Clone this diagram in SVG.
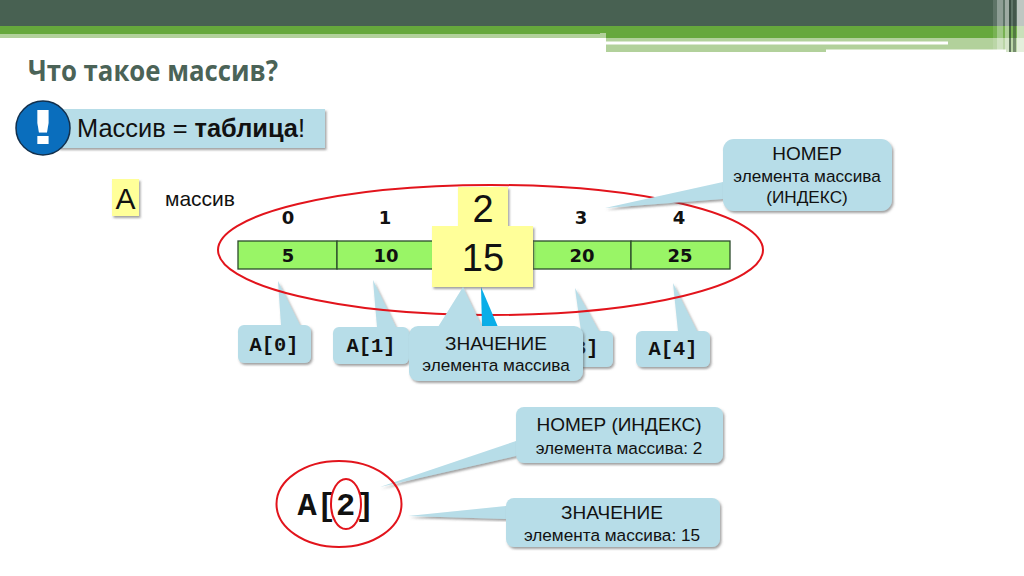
<svg xmlns="http://www.w3.org/2000/svg" width="1024" height="576" viewBox="0 0 1024 576">
<defs>
<filter id="sh" x="-20%" y="-20%" width="140%" height="140%"><feDropShadow dx="1.5" dy="2" stdDeviation="1.2" flood-color="#555" flood-opacity="0.55"/></filter>
</defs>
<style>
text{font-family:"Liberation Sans",Arial,sans-serif;fill:#111}
.m{text-anchor:middle}
.call{fill:#b7dde8;filter:url(#sh)}
.mono{font-family:"Liberation Mono","Courier New",monospace;font-weight:bold;font-size:20.4px;text-anchor:middle}
.num{font-family:"DejaVu Sans",sans-serif;font-weight:bold;font-size:18px;text-anchor:middle}
.cell{fill:#99f566;stroke:#2c4a2c;stroke-width:1.3}
.yel{fill:#ffff99;filter:url(#sh)}
.red{fill:none;stroke:#e2141c;stroke-width:2}
.l1{font-size:19px;text-anchor:middle}
.l2{font-size:17.2px;text-anchor:middle}
</style>
<rect width="1024" height="576" fill="#fff"/>
<g id="header">
<rect x="0" y="0" width="1024" height="26" fill="#486152"/>
<rect x="0" y="26" width="1024" height="8" fill="#66a83c"/>
<rect x="0" y="34" width="606" height="4" fill="#b2d19b"/>
<rect x="606" y="34" width="418" height="4" fill="#66a83c"/>
<rect x="600" y="33" width="6" height="5" fill="#b2d19b"/>
<rect x="606" y="38" width="418" height="14" fill="#b2d19b"/>
<rect x="606" y="41.500" width="342" height="3" fill="#fff"/>
<rect x="826" y="49.500" width="180" height="3" fill="#fff"/>
<rect x="993" y="0" width="31" height="52" fill="#fff" opacity="0.12"/>
<rect x="997" y="0" width="6" height="52" fill="#fff" opacity="0.3"/>
<rect x="1005" y="0" width="4" height="52" fill="#fff" opacity="0.4"/>
<rect x="1009" y="0" width="2" height="52" fill="#23352b" opacity="0.6"/>
<rect x="1013" y="0" width="3" height="52" fill="#23352b" opacity="0.45"/>
<rect x="1017" y="0" width="7" height="52" fill="#fff" opacity="0.6"/>
</g>
<text id="title" x="28" y="81" font-size="28" font-weight="bold" textLength="250" lengthAdjust="spacingAndGlyphs" style="font-family:'Open Sans','Noto Sans',sans-serif;fill:#4b6357">Что такое массив?</text>
<g id="note">
<rect class="call" x="58" y="109" width="267" height="39"/>
<circle cx="43" cy="128" r="27" fill="#0a6ebd" stroke="#12304d" stroke-width="1.500"/>
<text transform="translate(43 144) scale(1.35 1)" x="0" y="0" font-size="47" font-weight="bold" class="m" style="font-family:'DejaVu Sans',sans-serif;fill:#fff">!</text>
<text x="77" y="137" font-size="25.400">Массив = <tspan font-weight="bold">таблица</tspan>!</text>
</g>
<g id="array-name">
<rect class="yel" x="112" y="179" width="27" height="37"/>
<text x="125.500" y="209" font-size="30" class="m">A</text>
<text x="165" y="206" font-size="21">массив</text>
</g>
<g id="connectors">
<path class="call" d="M278 281L300 325H281Z"/>
<path class="call" d="M373 280L396 327H377Z"/>
<path class="call" d="M575 288L599 331H581Z"/>
<path class="call" d="M673 283L697 331H678Z"/>
</g>
<g id="callout-a0"><rect class="call" x="238" y="325" width="73" height="38" rx="6"/><text class="mono" x="274" y="351">A[0]</text></g>
<g id="callout-a1"><rect class="call" x="333" y="327" width="76" height="37" rx="6"/><text class="mono" x="371" y="352">A[1]</text></g>
<g id="callout-a3"><rect class="call" x="540" y="331" width="73" height="36" rx="6"/><text class="mono" x="574" y="354">A[3]</text></g>
<g id="callout-a4"><rect class="call" x="636" y="331" width="74" height="36" rx="6"/><text class="mono" x="673" y="355">A[4]</text></g>
<g id="array">
<rect class="cell" x="238" y="241" width="99" height="28"/>
<rect class="cell" x="337" y="241" width="98" height="28"/>
<rect class="cell" x="435" y="241" width="98" height="28"/>
<rect class="cell" x="533" y="241" width="98" height="28"/>
<rect class="cell" x="631" y="241" width="99" height="28"/>
<text class="num" x="288" y="262">5</text>
<text class="num" x="386" y="262">10</text>
<text class="num" x="582" y="262">20</text>
<text class="num" x="680" y="262">25</text>
<text class="num" x="288" y="224">0</text>
<text class="num" x="385" y="224">1</text>
<text class="num" x="581" y="224">3</text>
<text class="num" x="679" y="224">4</text>
</g>
<ellipse id="array-ring" class="red" cx="490.500" cy="250" rx="272.500" ry="65"/>
<g id="index-callout">
<path class="call" d="M605 208L723 182V199Z"/>
<rect class="call" x="723" y="139" width="169" height="72" rx="11"/>
<text class="l1" x="807" y="160">НОМЕР</text>
<text class="l2" x="807" y="182">элемента массива</text>
<text class="l2" x="807" y="203">(ИНДЕКС)</text>
</g>
<g id="index-box"><rect class="yel" x="458" y="187" width="50" height="45"/><text x="483" y="222" font-size="38" class="m">2</text></g>
<path id="blue-tail" d="M481 287L498 327H482Z" fill="#0aaee8"/>
<g id="value-box"><rect class="yel" x="432" y="226" width="101" height="61"/><text x="483" y="271" font-size="38" class="m">15</text></g>
<g id="value-callout">
<path class="call" d="M463 287L482 327H438Z"/>
<rect class="call" x="409" y="326" width="174" height="55" rx="9"/>
<text class="l1" x="496" y="350">ЗНАЧЕНИЕ</text>
<text class="l2" x="496" y="371">элемента массива</text>
</g>
<g id="example">
<path class="call" d="M380 487L516 441V456Z"/>
<path class="call" d="M408 516L506 506V519Z"/>
<text x="336" y="515" class="mono" style="font-size:32px">A[2]</text>
<ellipse class="red" cx="339" cy="504" rx="62.500" ry="43"/>
<ellipse class="red" cx="346" cy="504" rx="15" ry="25"/>
</g>
<g id="index-note">
<rect class="call" x="516" y="407" width="207" height="56" rx="8"/>
<text class="l1" x="619" y="431">НОМЕР (ИНДЕКС)</text>
<text class="l2" x="619" y="454">элемента массива: 2</text>
</g>
<g id="value-note">
<rect class="call" x="506" y="498" width="214" height="49" rx="8"/>
<text class="l1" x="612" y="519">ЗНАЧЕНИЕ</text>
<text class="l2" x="612" y="541">элемента массива: 15</text>
</g>
</svg>
